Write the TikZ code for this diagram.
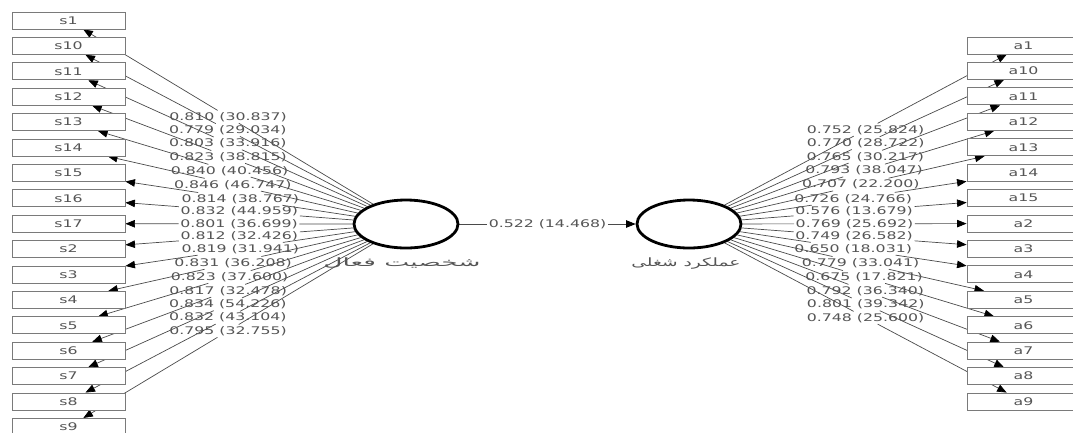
\documentclass[tikz,border=0pt]{standalone}
\usepackage{fontspec}
\setmainfont[FakeStretch=1.5]{DejaVu Sans}
\newfontfamily\fa[Script=Arabic,FakeStretch=2.3]{DejaVu Sans}
\newfontfamily\fb[Script=Arabic,FakeStretch=1.62]{DejaVu Sans}
\TeXXeTstate=1
\usetikzlibrary{shapes.geometric,arrows.meta}
\pgfdeclarelayer{bg}
\pgfsetlayers{bg,main}
\definecolor{txt}{HTML}{555555}
\definecolor{lin}{HTML}{4A4A4A}
\definecolor{bx}{HTML}{7A7A7A}
\begin{document}
\begin{tikzpicture}[x=1pt,y=-1pt,
  ind/.style={rectangle, draw=bx, fill=white, line width=0.9pt, minimum width=113pt, minimum height=17pt, inner sep=0pt, text=txt, font=\fontsize{10.5}{12}\selectfont},
  lv/.style={ellipse, draw=black, fill=white, line width=2.8pt, minimum width=104pt, minimum height=48pt, inner sep=0pt},
  lab/.style={text=txt, inner sep=1.5pt, font=\fontsize{10.5}{12}\selectfont},
  ln/.style={draw=lin, line width=0.7pt},
  arr/.style={ln, -{Triangle[length=9.5pt,width=7.5pt,color=black]}},
  lvlab/.style={text=txt, inner sep=0pt, font=\fontsize{11.5}{13}\selectfont}
]
\useasboundingbox (0,0) rectangle (1073,432);
\clip (0,0) rectangle (1073,432);
\begin{pgfonlayer}{bg}
  \fill[white] (0,0) rectangle (1073,432);
\end{pgfonlayer}

\node[lv] (F) at (406,224) {};
\node[lv] (J) at (689,224) {};
\node[lvlab] (Fl) at (402,263) {\fa\beginR شخصیت فعال\endR};
\node[lvlab] (Jl) at (686,264) {\fb\beginR عملکرد شغلی\endR};

\foreach \n [count=\i from 0] in {1,10,11,12,13,14,15,16,17,2,3,4,5,6,7,8,9}
  \node[ind] (s\n) at (68.5,{20.5+25.4*\i}) {s\n};
\foreach \n [count=\i from 0] in {1,10,11,12,13,14,15,2,3,4,5,6,7,8,9}
  \node[ind] (a\n) at (1023.5,{45.5+25.43*\i}) {a\n};

\foreach \n/\v in {1/0.810 (30.837),10/0.779 (29.034),11/0.803 (33.916),12/0.823 (38.815),13/0.840 (40.456),14/0.846 (46.747),15/0.814 (38.767),16/0.832 (44.959),17/0.801 (36.699),2/0.812 (32.426),3/0.819 (31.941),4/0.831 (36.208),5/0.823 (37.600),6/0.817 (32.478),7/0.834 (54.226),8/0.832 (43.104),9/0.795 (32.755)}{
  \path (F) -- (s\n) node[midway,lab] (ls\n) {\v};
  \begin{pgfonlayer}{bg}
    \draw[ln] (F) -- (ls\n);
    \draw[arr] (ls\n) -- (s\n);
  \end{pgfonlayer}
}
\foreach \n/\v in {1/0.752 (25.824),10/0.770 (28.722),11/0.765 (30.217),12/0.793 (38.047),13/0.707 (22.200),14/0.726 (24.766),15/0.576 (13.679),2/0.769 (25.692),3/0.749 (26.582),4/0.650 (18.031),5/0.779 (33.041),6/0.675 (17.821),7/0.792 (36.340),8/0.801 (39.342),9/0.748 (25.600)}{
  \path (J) -- (a\n) node[midway,lab] (la\n) {\v};
  \begin{pgfonlayer}{bg}
    \draw[ln] (J) -- (la\n);
    \draw[arr] (la\n) -- (a\n);
  \end{pgfonlayer}
}
\path (F) -- (J) node[midway,lab] (lFJ) {0.522 (14.468)};
\begin{pgfonlayer}{bg}
  \draw[ln] (F) -- (lFJ);
  \draw[arr] (lFJ) -- (J);
\end{pgfonlayer}
\end{tikzpicture}
\end{document}
